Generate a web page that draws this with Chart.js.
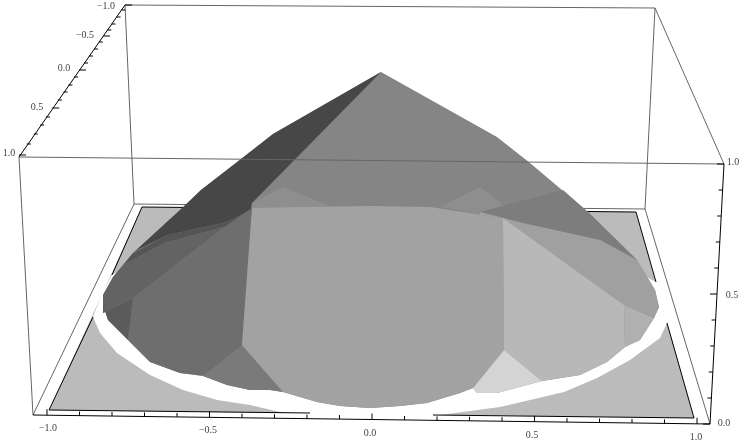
<!DOCTYPE html>
<html>
<head>
<meta charset="utf-8">
<style>
  html, body { margin: 0; padding: 0; background: #fff; }
  canvas { display: block; }
</style>
<script src="https://cdn.jsdelivr.net/npm/chart.js@4/dist/chart.umd.min.js"></script>
</head>
<body>
<canvas id="chart" width="747" height="445"></canvas>
<script>
const planeOutline = [[142,207],[636,212],[694,418],[49,410]];
const holeOutline = [[112,275],[102,293],[93,317],[100,333],[117,353],[150,375],[183,390],[217,400],[250,405],[280,412],[310,415],[370,418],[433,416],[500,407],[530,400],[564,392],[597,378],[630,360],[660,338],[667,323],[668,305],[656,282],[500,200],[250,200]];
const planeEdges = [[142,207],[636,212],null,[142,207],[112,275],null,[93,317],[49,410],[310,413],null,[433,415],[694,418],[667,323],null,[656,282],[636,212]];

const boxBack = [[125,5],[655,8],null,[125,5],[134,204],null,[655,8],[645,209],null,[134,204],[645,209],null,[134,204],[33,415],null,[645,209],[710,424]];
const boxFront = [[19,157],[724,164],null,[19,157],[33,415],null,[655,8],[724,164]];
const axisBlack = [[33,415],[710,424],[724,164],null,[19,157],[125,5]];

const silhouette = [[381,72],[497,137],[530,163],[588,212],[637,260],[655,290],[659,307],[654,318],[640,340],[625,347],[607,362],[580,375],[542,381],[497,393],[477,393],[473,388],[460,393],[427,403],[400,406],[370,408],[340,406],[317,402],[283,392],[270,390],[250,390],[227,385],[203,376],[180,373],[150,362],[128,340],[108,320],[103,305],[103,295],[113,277],[133,253],[180,210],[201,190],[250,152],[273,134]];
const darkBack = [[381,72],[273,134],[250,152],[201,190],[180,210],[133,253],[137,250],[168,235],[223,223],[250,213],[252,203]];
const darkBand = [[133,253],[123,265],[165,243],[235,224],[252,216],[252,209],[223,223],[168,235]];
const leftUpper = [[123,265],[113,277],[103,295],[103,313],[133,298],[230,223],[252,208],[252,216],[235,224],[165,243]];
const leftFacet = [[133,298],[230,223],[252,208],[242,345],[205,376],[180,373],[150,362],[128,340]];
const leftEnd = [[103,305],[103,313],[133,298],[128,340],[108,320]];
const bottomLeft = [[242,345],[283,392],[270,390],[250,390],[227,385],[203,376]];
const centerFacet = [[252,208],[300,207],[370,206],[430,207],[503,218],[504,350],[473,388],[460,393],[427,403],[400,406],[370,408],[340,406],[317,402],[283,392],[242,345]];
const bottomRight = [[504,350],[542,381],[497,393],[477,393],[473,388]];
const rightCenter = [[503,218],[624,305],[625,347],[607,362],[580,375],[542,381],[504,350]];
const rightBand = [[480,212],[523,223],[600,240],[637,260],[655,290],[659,307],[654,318],[624,305],[503,218],[480,215]];
const rightEnd = [[624,305],[654,318],[640,340],[625,347]];
const rightShade = [[563,190],[588,212],[637,260],[600,240],[523,223],[480,212]];
const backLeftGlow = [[252,203],[283,187],[330,206],[252,209]];
const backRightGlow = [[503,205],[480,187],[440,207],[503,218]];

const xTicks = [-1,-0.9,-0.8,-0.7,-0.6,-0.5,-0.4,-0.3,-0.2,-0.1,0,0.1,0.2,0.3,0.4,0.5,0.6,0.7,0.8,0.9,1];
const zTicks = [0,0.1,0.2,0.3,0.4,0.5,0.6,0.7,0.8,0.9,1];
const depthTickY = [5,10,17,24,30,36,42,49,56,63,70,77,85,92,100,108,117,125,134,144,155];
const xLabels = ['\u22121.0','\u22120.5','0.0','0.5','1.0'];
const xLabelAt = [[48,428],[208,430],[370,433],[532,435],[696,437]];
const depthLabels = ['\u22121.0','\u22120.5','0.0','0.5','1.0'];
const depthLabelAt = [[106,6],[85,35],[64,68],[37,107],[9,153]];
const zLabels = ['0.0','0.5','1.0'];
const zLabelAt = [[724,423],[732,295],[733,162]];

function pts(list) {
  return list.map((p) => (p ? { x: p[0], y: p[1] } : { x: NaN, y: NaN }));
}

function lerpTicks() {
  const out = [];
  xTicks.forEach((v, i) => {
    const t = (v + 1) / 2;
    const x = 47 + t * 650;
    const y = 415 + (x - 33) * 9 / 677;
    const len = i % 5 === 0 ? 6 : 4;
    out.push([x, y], [x, y - len], null);
  });
  zTicks.forEach((v, i) => {
    const y = 424 - v * 260;
    const x = 710 + v * 14;
    const len = i % 5 === 0 ? 7 : 4;
    out.push([x, y], [x - len, y], null);
  });
  depthTickY.forEach((y, i) => {
    const x = 19 + (155 - y) * 106 / 150;
    const len = i % 5 === 0 ? 7 : 4;
    out.push([x, y], [x + len, y], null);
  });
  return out;
}

function poly(list, color) {
  return { data: pts(list), showLine: true, fill: 'shape', backgroundColor: color, borderWidth: 0, pointRadius: 0, spanGaps: false };
}
function lines(list, color, width) {
  return { data: pts(list), showLine: true, fill: false, borderColor: color, borderWidth: width || 1, pointRadius: 0, spanGaps: false };
}

// painter's order, first one at the back
const layers = [
  poly(planeOutline, '#bbbbbb'),
  poly(holeOutline, '#ffffff'),
  lines(planeEdges, '#000000'),
  lines(boxBack, '#666666'),
  poly(silhouette, '#858585'),
  poly(backLeftGlow, '#8e8e8e'),
  poly(backRightGlow, '#8e8e8e'),
  poly(rightShade, '#7d7d7d'),
  poly(darkBack, '#474747'),
  poly(darkBand, '#555555'),
  poly(leftUpper, '#636363'),
  poly(leftFacet, '#6e6e6e'),
  poly(leftEnd, '#5b5b5b'),
  poly(bottomLeft, '#7a7a7a'),
  poly(centerFacet, '#a2a2a2'),
  poly(rightBand, '#a0a0a0'),
  poly(rightCenter, '#b8b8b8'),
  poly(rightEnd, '#b0b0b0'),
  poly(bottomRight, '#d4d4d4'),
  lines(boxFront, '#666666'),
  lines(axisBlack, '#000000'),
  lines(lerpTicks(), '#000000'),
];
layers.forEach((d, i) => { d.order = layers.length - i; });

const axisText = {
  id: 'axisText',
  afterDraw(chart) {
    const { ctx, scales } = chart;
    ctx.save();
    ctx.font = '10px "Liberation Serif", serif';
    ctx.fillStyle = '#444444';
    ctx.textAlign = 'center';
    ctx.textBaseline = 'middle';
    const put = (labels, at) => labels.forEach((s, i) => {
      ctx.fillText(s, scales.x.getPixelForValue(at[i][0]), scales.y.getPixelForValue(at[i][1]));
    });
    put(xLabels, xLabelAt);
    put(depthLabels, depthLabelAt);
    put(zLabels, zLabelAt);
    ctx.restore();
  },
};

new Chart(document.getElementById('chart'), {
  type: 'scatter',
  data: { datasets: layers },
  options: {
    responsive: false,
    animation: false,
    layout: { padding: 0 },
    plugins: { legend: { display: false }, tooltip: { enabled: false } },
    scales: {
      x: { type: 'linear', min: 0, max: 747, display: false },
      y: { type: 'linear', min: 0, max: 445, reverse: true, display: false },
    },
  },
  plugins: [axisText],
});
</script>
</body>
</html>
